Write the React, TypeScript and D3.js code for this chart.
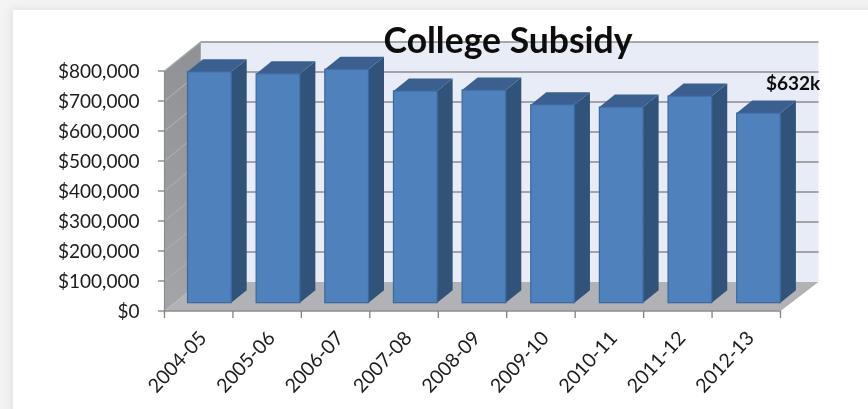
import React from "react";
import * as d3 from "d3";

const categories = ["2004-05","2005-06","2006-07","2007-08","2008-09","2009-10","2010-11","2011-12","2012-13"];
const subsidy = [770000,763000,778000,706000,709000,660000,652000,689000,632000];
const yTicks = [0,100000,200000,300000,400000,500000,600000,700000,800000];
const title = "College Subsidy";
const callout = "$632k";

const W = 868, H = 409;
const FONT = "Lato, 'Open Sans', sans-serif";
const left = 164.5, right = 780.5, y0 = 311, yTop = 71;
const depthX = 36, depthY = 29;
const barBaseLift = 8.3;
const barW = 43.7, barDX = 15.5, barDY = 12.5;

const x = d3.scaleBand<string>().domain(categories).range([left, right]);
const xBars = d3.scaleBand<string>().domain(categories).range([187.5, 187.5 + 9 * 68.65]);
const y = d3.scaleLinear().domain([0, 800000]).range([y0, yTop]);
const fmt = (v: number) => "$" + d3.format(",")(v);
const pts = (p: [number, number][]) => p.map(q => q.join(",")).join(" ");

export default function App() {
  const backL = left + depthX, backR = right + depthX + 2;
  return (
    <svg width={W} height={H} viewBox={`0 0 ${W} ${H}`} style={{ position: "absolute", left: 0, top: 0, background: "#f4f4f4" }}>
      <defs>
        <filter id="soft" x="-5%" y="-5%" width="110%" height="110%"><feGaussianBlur stdDeviation="4" /></filter>
        <filter id="b" x="-2%" y="-2%" width="104%" height="104%"><feGaussianBlur stdDeviation="0.35" /></filter>
        <filter id="tb" x="-5%" y="-20%" width="110%" height="140%"><feGaussianBlur stdDeviation="0.3" /></filter>
        <linearGradient id="wall" x1="0" y1="0" x2="0" y2="1">
          <stop offset="0" stopColor="#8f9194" /><stop offset="1" stopColor="#a3a5a8" />
        </linearGradient>
      </defs>
      <rect x={10} y={8} width={W} height={H} fill="#e4e4e4" filter="url(#soft)" />
      <rect x={13} y={10} width={W} height={H} fill="#ffffff" />
      <g filter="url(#b)">
        <rect x={backL} y={y(800000) - depthY} width={backR - backL} height={y0 - yTop} fill="#e8ecf6" />
        <polygon fill="url(#wall)" points={pts([[left, yTop],[backL, yTop - depthY],[backL, y0 - depthY],[left, y0]])} />
        <polygon fill="#b0b2b5" points={pts([[left, y0],[backL, y0 - depthY],[backR, y0 - depthY],[right, y0]])} />
        {yTicks.filter(t => t > 0).map(t => (
          <g key={t}>
            <line x1={backL} x2={backR} y1={y(t) - depthY} y2={y(t) - depthY} stroke="#8c8c8c" strokeWidth={1.6} />
            <line x1={left} x2={backL} y1={y(t)} y2={y(t) - depthY} stroke="#a9abae" strokeWidth={1.2} />
          </g>
        ))}
        <line x1={backL} x2={backL} y1={yTop - depthY} y2={y0 - depthY} stroke="#a5a7aa" strokeWidth={1} />
        {categories.map((c, i) => {
          const xl = xBars(c) as number;
          const xr = xl + barW;
          const base = y0 - barBaseLift;
          const top = y(subsidy[i]) - barBaseLift;
          return (
            <g key={c}>
              <polygon fill="#315379" points={pts([[xr, top],[xr + barDX, top - barDY],[xr + barDX, base - barDY],[xr, base]])} />
              <polygon fill="#3b6090" points={pts([[xl, top],[xl + barDX, top - barDY],[xr + barDX, top - barDY],[xr, top]])} />
              <rect x={xl} y={top} width={barW} height={base - top} fill="#4f81bd" stroke="#3a689f" strokeWidth={1.2} />
            </g>
          );
        })}
        <line x1={left} x2={left} y1={yTop} y2={y0} stroke="#8c8c8c" strokeWidth={1.2} />
        <line x1={left} x2={right} y1={y0} y2={y0} stroke="#8c8c8c" strokeWidth={1.4} />
        {yTicks.map(t => (
          <line key={t} x1={158} x2={left} y1={y(t)} y2={y(t)} stroke="#808080" strokeWidth={1.3} />
        ))}
        {d3.range(categories.length + 1).map(i => {
          const tx = left + i * x.step();
          return <line key={i} x1={tx} x2={tx} y1={y0} y2={318} stroke="#808080" strokeWidth={1.3} />;
        })}
      </g>
      <g filter="url(#tb)" fontFamily={FONT} fill="#1c1c1c">
        {yTicks.map(t => (
          <text key={t} x={139.5} y={y(t)} dy="0.36em" textAnchor="end" fontSize={19}>{fmt(t)}</text>
        ))}
        {categories.map(c => (
          <text key={c} textAnchor="end" fontSize={19.5}
            transform={`translate(${(x(c) as number) + x.bandwidth() / 2 + 9},${339}) rotate(-47)`}>{c}</text>
        ))}
        <text x={766} y={90} fontSize={19} fontWeight={700} fill="#111">{callout}</text>
        <text x={508} y={52.5} textAnchor="middle" fontSize={35.5} fontWeight={700} fill="#0a0a0a">{title}</text>
      </g>
    </svg>
  );
}
